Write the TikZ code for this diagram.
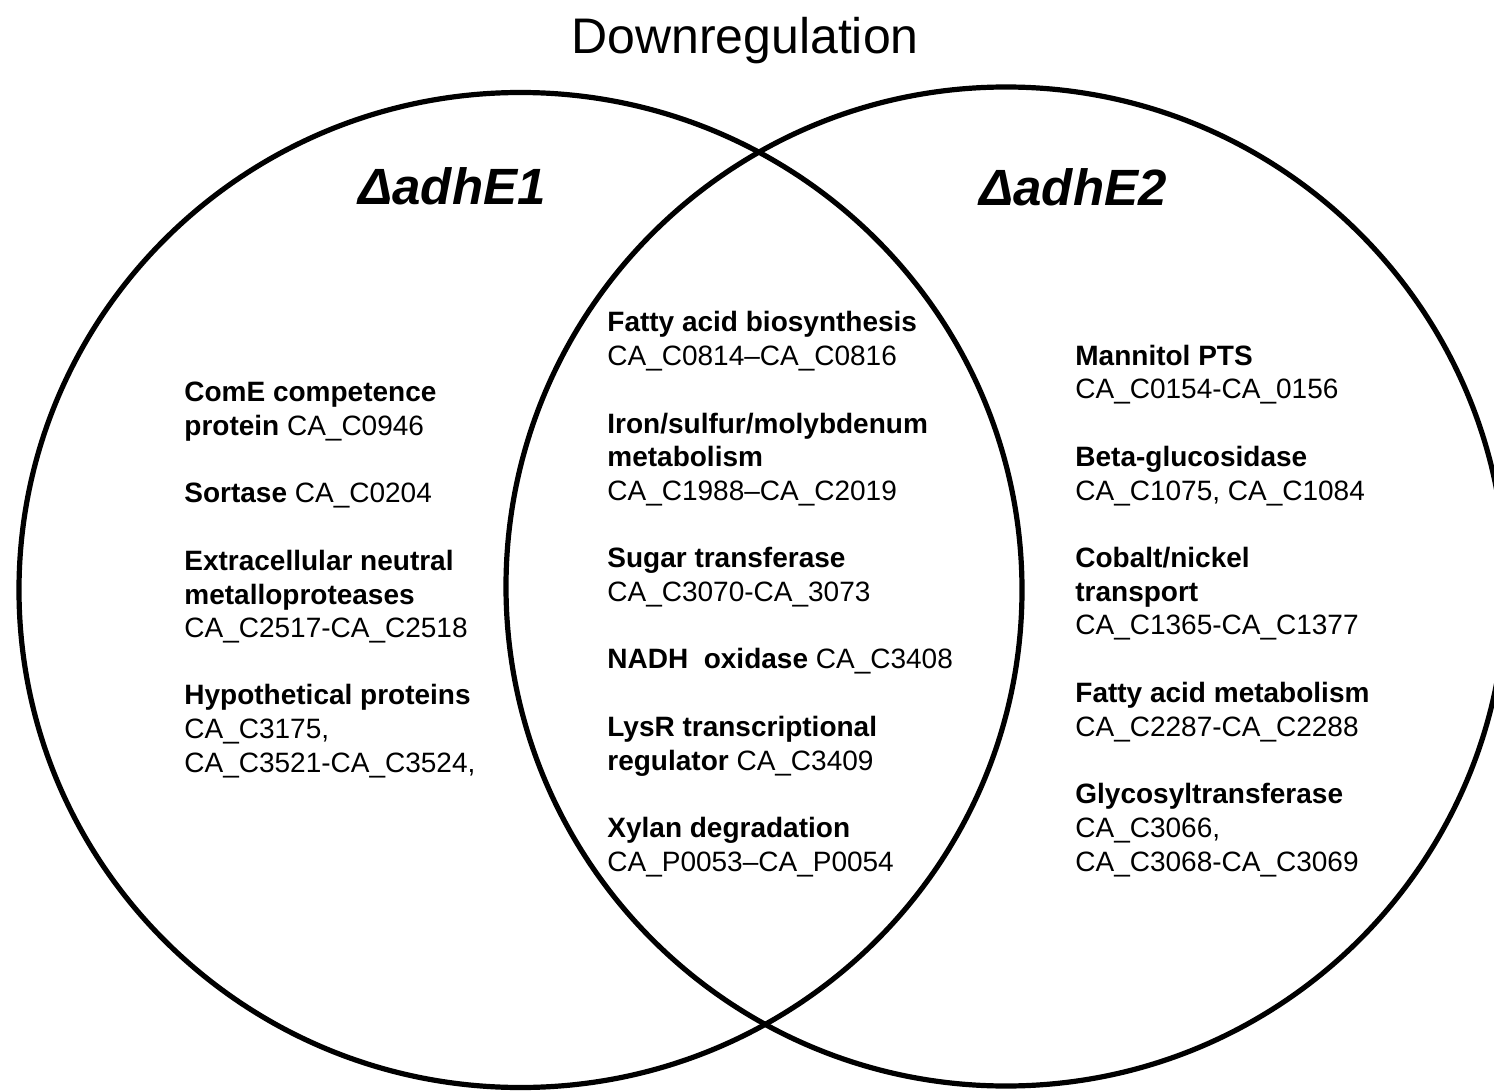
\documentclass[tikz,border=0pt]{standalone}
\usepackage{fontspec}
\setmainfont{Liberation Sans}
\begin{document}
\begin{tikzpicture}[x=0.5pt,y=-0.5pt,
  ring/.style={line width=2.6pt, draw=black},
  body/.style={anchor=base west, inner sep=0pt, font=\fontsize{14}{17}\selectfont},
  titlefont/.style={anchor=base, inner sep=0pt, font=\fontsize{25}{30}\selectfont},
  setname/.style={anchor=base, inner sep=0pt, font=\fontsize{25.5}{30}\selectfont\bfseries\itshape}]
\useasboundingbox (0,0) rectangle (1494,1091);
\begin{scope}
  \clip (0,0) rectangle (1494,1091);
  \draw[ring] (520.5,590) ellipse [x radius=501.5, y radius=497.5];
  \draw[ring] (1006,586.5) ellipse [x radius=500, y radius=499.5];
\end{scope}

\node[titlefont] (title) at (745,54) {Downregulation};
\node[setname] (setA) at (452,205) {ΔadhE1};
\node[setname] (setB) at (1073,206) {ΔadhE2};

% left set
\node[body] (a1) at (184,401) {\bfseries ComE competence};
\node[body] (a2) at (184,435) {{\bfseries protein} CA\_C0946};
\node[body] (a3) at (184,502) {{\bfseries Sortase} CA\_C0204};
\node[body] (a4) at (184,570) {\bfseries Extracellular neutral};
\node[body] (a5) at (184,604) {\bfseries metalloproteases};
\node[body] (a6) at (184,637) {CA\_C2517-CA\_C2518};
\node[body] (a7) at (184,704) {\bfseries Hypothetical proteins};
\node[body] (a8) at (184,738) {CA\_C3175,};
\node[body] (a9) at (184,772) {CA\_C3521-CA\_C3524,};

% intersection
\node[body] (m1) at (607,331.5) {\bfseries Fatty acid biosynthesis};
\node[body] (m2) at (607,365) {CA\_C0814--CA\_C0816};
\node[body] (m3) at (607,433) {\bfseries Iron/sulfur/molybdenum};
\node[body] (m4) at (607,466.5) {\bfseries metabolism};
\node[body] (m5) at (607,500) {CA\_C1988--CA\_C2019};
\node[body] (m6) at (607,567.5) {\bfseries Sugar transferase};
\node[body] (m7) at (607,601) {CA\_C3070-CA\_3073};
\node[body] (m8) at (607,668.5) {{\bfseries NADH\ \ oxidase} CA\_C3408};
\node[body] (m9) at (607,736) {\bfseries LysR transcriptional};
\node[body] (m10) at (607,770) {{\bfseries regulator} CA\_C3409};
\node[body] (m11) at (607,837) {\bfseries Xylan degradation};
\node[body] (m12) at (607,871) {CA\_P0053--CA\_P0054};

% right set
\node[body] (b1) at (1075,365.5) {\bfseries Mannitol PTS};
\node[body] (b2) at (1075,398) {CA\_C0154-CA\_0156};
\node[body] (b3) at (1075,466) {\bfseries Beta-glucosidase};
\node[body] (b4) at (1075,500) {CA\_C1075, CA\_C1084};
\node[body] (b5) at (1075,567.5) {\bfseries Cobalt/nickel};
\node[body] (b6) at (1075,601) {\bfseries transport};
\node[body] (b7) at (1075,634) {CA\_C1365-CA\_C1377};
\node[body] (b8) at (1075,702) {\bfseries Fatty acid metabolism};
\node[body] (b9) at (1075,736) {CA\_C2287-CA\_C2288};
\node[body] (b10) at (1075,803.5) {\bfseries Glycosyltransferase};
\node[body] (b11) at (1075,837) {CA\_C3066,};
\node[body] (b12) at (1075,871) {CA\_C3068-CA\_C3069};
\end{tikzpicture}
\end{document}
